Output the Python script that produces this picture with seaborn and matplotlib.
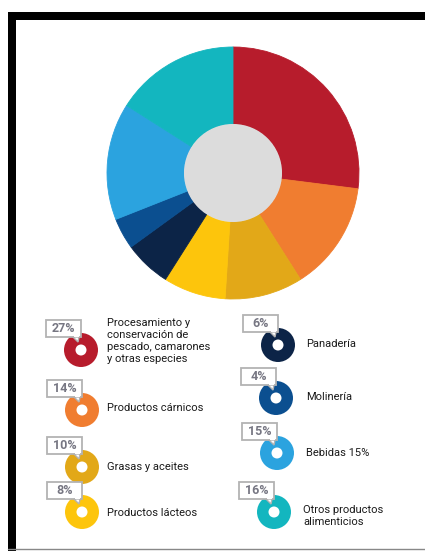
import matplotlib
matplotlib.use("Agg")
import matplotlib.pyplot as plt
from matplotlib.patches import Rectangle, Circle, Polygon
import seaborn as sns

# Industry shares (%), clockwise from 12 o'clock
categories = [
    "Procesamiento y\nconservación de\npescado, camarones\ny otras especies",
    "Productos cárnicos",
    "Grasas y aceites",
    "Productos lácteos",
    "Panadería",
    "Molinería",
    "Bebidas 15%",
    "Otros productos\nalimenticios",
]
shares = [27, 14, 10, 8, 6, 4, 15, 16]
pct_labels = ["27%", "14%", "10%", "8%", "6%", "4%", "15%", "16%"]
hex_colors = ["#b71c2c", "#f07d30", "#e2a818", "#fdc50c",
              "#0c2447", "#0b4f90", "#2ba3df", "#13b6bf"]

sns.set_theme(style="white")
plt.rcParams["font.family"] = ["Roboto", "DejaVu Sans"]
palette = sns.color_palette(hex_colors)

W, H = 425, 551
fig = plt.figure(figsize=(W / 100, H / 100), dpi=100)
ax = fig.add_axes([0, 0, 1, 1])
ax.set_xlim(0, W)
ax.set_ylim(0, H)
ax.set_aspect("equal")
ax.axis("off")


def Y(y):
    return H - y


# frame
ax.add_patch(Rectangle((8, 0), 8, Y(12), color="black", lw=0, zorder=5))
ax.add_patch(Rectangle((8, Y(20)), W - 8, 8, color="black", lw=0, zorder=5))
ax.plot([8, W], [Y(548.5), Y(548.5)], color="#888888", lw=1, zorder=5)

# main donut
cx, cy, R, r_in = 233, 173, 126, 49
wedges, _ = ax.pie(shares, colors=palette, startangle=90, counterclock=False,
                   center=(cx, Y(cy)), radius=R,
                   wedgeprops=dict(width=R - r_in, linewidth=0))
for w in wedges:
    w.set_edgecolor(w.get_facecolor())
    w.set_linewidth(0.6)
ax.add_patch(Circle((cx, Y(cy)), r_in, color="#dcdcdc", lw=0, zorder=3))
ax.set_xlim(0, W)
ax.set_ylim(0, H)

# legend
icon_pos = [(81, 350), (82, 410), (82, 467), (82, 512),
            (278, 345), (276, 398), (277, 453), (274, 512)]
text_pos = [(107, 341), (107, 408), (107, 467), (107, 513),
            (306, 344), (306, 397), (306, 453), (303, 516)]
ri_out, ri_in = 17, 5.5

for i, (lab, pct) in enumerate(zip(categories, pct_labels)):
    ix, iy = icon_pos[i]
    ax.add_patch(Circle((ix, Y(iy)), ri_out, color=palette[i], lw=0, zorder=4))
    ax.add_patch(Circle((ix, Y(iy)), ri_in, color="white", lw=0, zorder=4))
    # percentage tag with a small tail
    bx0, bx1 = ix - 35, ix
    by0, by1 = iy - 30, iy - 13
    ax.add_patch(Rectangle((bx0, Y(by1)), bx1 - bx0, by1 - by0,
                           facecolor="white", edgecolor="#b3b3b3",
                           lw=1.3, zorder=6))
    ax.add_patch(Polygon([(bx1 - 8, Y(by1)), (bx1 - 2, Y(by1)),
                          (bx1 - 3, Y(by1 + 5))], closed=True,
                         facecolor="white", edgecolor="#b3b3b3",
                         lw=1.0, zorder=6))
    ax.add_patch(Rectangle((bx1 - 7.4, Y(by1) - 0.3), 5, 1.2,
                           color="white", lw=0, zorder=7))
    ax.text((bx0 + bx1) / 2, Y((by0 + by1) / 2), pct, ha="center",
            va="center", fontsize=9, fontweight="bold",
            color="#767682", zorder=8)
    tx, ty = text_pos[i]
    ax.text(tx, Y(ty), lab, ha="left", va="center", fontsize=8,
            color="#1a1a1a", linespacing=1.25, zorder=8)

fig.savefig("out.png", dpi=100)
